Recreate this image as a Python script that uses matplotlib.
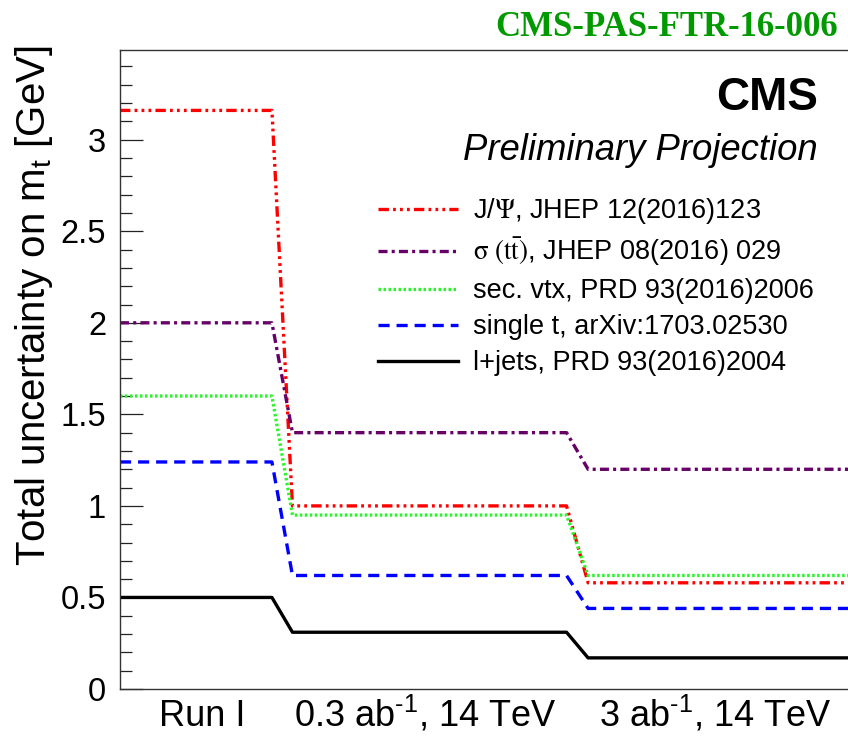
import numpy as np
import matplotlib
matplotlib.use('Agg')
import matplotlib.pyplot as plt

plt.rcParams['font.family'] = ['Liberation Sans', 'DejaVu Sans']
plt.rcParams['mathtext.fontset'] = 'custom'
plt.rcParams['mathtext.rm'] = 'Liberation Sans'
plt.rcParams['mathtext.it'] = 'Liberation Sans:italic'
plt.rcParams['lines.scale_dashes'] = False

# x positions of the step corners (Run I -> 0.3 ab-1 -> 3 ab-1)
xs = [0, 1.48, 1.68, 4.35, 4.56, 7.6]
stage_x = [0.80, 2.97, 5.80]
stage_labels = ['Run I', r'0.3 ab$^{\text{-}1}$, 14 TeV', r'3 ab$^{\text{-}1}$, 14 TeV']

jpsi = [3.16, 1.00, 0.58]
sigma_tt = [2.00, 1.40, 1.20]
sec_vtx = [1.60, 0.95, 0.62]
single_t = [1.24, 0.62, 0.44]
ljets = [0.50, 0.31, 0.17]

labels = [r'J/$\Psi$, JHEP 12(2016)123',
          r'$\mathrm{\sigma}\ (\mathrm{t\bar{t}})$, JHEP 08(2016) 029',
          'sec. vtx, PRD 93(2016)2006',
          'single t, arXiv:1703.02530',
          'l+jets, PRD 93(2016)2004']

def steps(v):
    return [v[0], v[0], v[1], v[1], v[2], v[2]]

fig = plt.figure(figsize=(8.48, 7.37), dpi=100)
ax = fig.add_axes([120/848, 48/737, 0.92, 639/737])

lw = 2.4
h_jpsi, = ax.plot(xs, steps(jpsi), color='#ff0000', lw=lw,
                  linestyle=(0, (7.5, 3, 2, 3, 2, 3, 2, 3)))
h_sig, = ax.plot(xs, steps(sigma_tt), color='#660066', lw=lw,
                 linestyle=(0, (6.5, 3, 2.2, 3)))
h_sec, = ax.plot(xs, steps(sec_vtx), color='#2bf52b', lw=lw,
                 linestyle=(0, (1.8, 1.8)))
h_st, = ax.plot(xs, steps(single_t), color='#0000ff', lw=lw,
                linestyle=(0, (8, 5)))
h_lj, = ax.plot(xs, steps(ljets), color='black', lw=lw)

ax.set_xlim(0, 7.6)
ax.set_ylim(0, 3.49)
ax.set_xticks(stage_x)
ax.set_xticklabels(stage_labels, fontsize=26)
for lab in ax.get_xticklabels():
    lab.set_verticalalignment('baseline')
ax.tick_params(axis='x', length=0, pad=27)
ax.set_yticks(np.arange(0, 3.01, 0.5))
ax.set_yticklabels(['0', '0.5', '1', '1.5', '2', '2.5', '3'], fontsize=23.5)
ax.set_yticks(np.arange(0, 3.45, 0.1), minor=True)
ax.tick_params(axis='y', which='major', direction='in', length=16.5, width=0.9, pad=10, color='#222222')
ax.tick_params(axis='y', which='minor', direction='in', length=8.5, width=0.9, color='#222222')
for s in ax.spines.values():
    s.set_linewidth(1.0)
    s.set_color('#333333')
ax.set_ylabel(r'Total uncertainty on m$_{\rm t}$ [GeV]', fontsize=29)
ax.yaxis.set_label_coords(-0.083, 0.6)

leg = fig.legend([h_jpsi, h_sig, h_sec, h_st, h_lj], labels,
                 loc='upper left', bbox_to_anchor=(378/848, 1 - 196/737),
                 frameon=False, fontsize=19.5, handlelength=2.95, handletextpad=0.55,
                 labelspacing=0.37, borderpad=0, borderaxespad=0)
for t in leg.get_texts():
    t.set_math_fontfamily('stix')

fig.text(818/848, 1 - 110/737, 'CMS', fontsize=33, fontweight='bold', ha='right', va='baseline')
fig.text(818/848, 1 - 160/737, 'Preliminary Projection', fontsize=26.3, style='italic',
         ha='right', va='baseline')
fig.text(838/848, 1 - 36/737, 'CMS-PAS-FTR-16-006', fontsize=25, fontweight='bold',
         family='Liberation Serif', color='#009a00', ha='right', va='baseline')

fig.savefig('out.png', dpi=100)
